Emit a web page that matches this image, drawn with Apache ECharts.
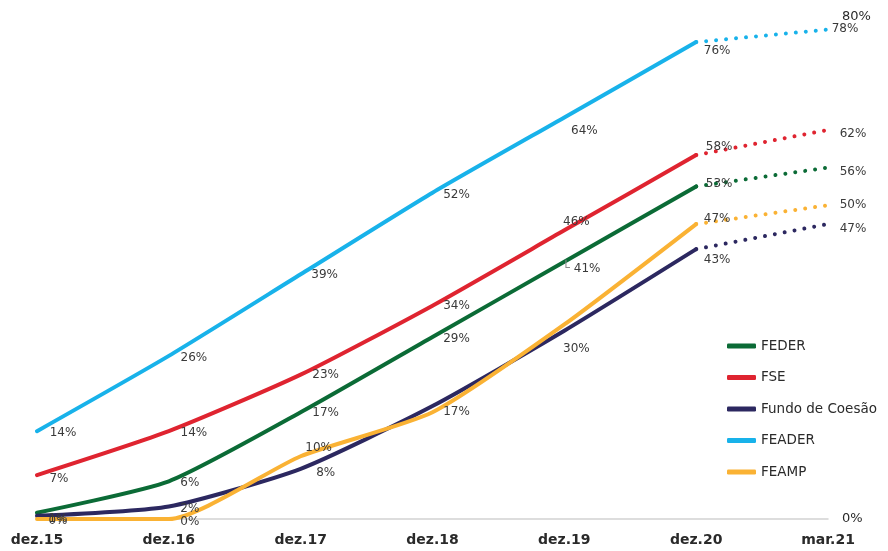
<!DOCTYPE html>
<html><head><meta charset="utf-8">
<script src="https://cdn.jsdelivr.net/npm/echarts@6/dist/echarts.min.js"></script>
<style>html,body{margin:0;padding:0;background:#fff}#c{width:888px;height:551px}</style>
</head><body><div id="c"></div>
<script>
const categories = ['dez.15','dez.16','dez.17','dez.18','dez.19','dez.20','mar.21'];
const seriesNames = ['FEDER','FSE','Fundo de Coesão','FEADER','FEAMP'];
const feder  = [1, 6, 17, 29, 41, 53, 56];
const fse    = [7, 14, 23, 34, 46, 58, 62];
const coesao = [0.5, 2, 8, 18, 30, 43, 47];
const feader = [14, 26, 39, 52, 64, 76, 78];
const feamp  = [0, 0, 10, 17, 31, 47, 50];
const yTicks = [0, 80];
const lastActual = 5; // dez.20; mar.21 is projected (dotted)

// label offsets (style only): [dx, dy] of label centre from the point, null = hidden
const offFeder  = [[21,6],[21,2],[25,1],[24,2],[17,7],[23,-3],[25,4]];
const offFse    = [[22,4],[25,2],[25,0],[24,0],[12,-8],[23,-8],[25,4]];
const offCoesao = [null,[21,2],[25,4],null,[12,18],[21,11],[25,5]];
const offFeader = [[26,2],[25,2],[24,1],[24,2],[20,13],[21,9],[17,-1]];
const offFeamp  = [[21,2],[21,3],[18,-8],[24,0],null,[21,-5],[25,0]];
const leaderAt = [0, 4]; // series index, point index with a small leader mark
const colors = ['#0b6b36','#df2430','#2c2860','#18b2ea','#fab234'];

const vals = [feder, fse, coesao, feader, feamp];
const offs = [offFeder, offFse, offCoesao, offFeader, offFeamp];

function item(v, off, leader){
  const lab = off ? {show:true, offset: off} : {show:false};
  if (leader) {
    lab.formatter = '{l|└} ' + Math.round(v) + '%';
    lab.rich = {l:{color:'#8a8a8a', fontSize:13, fontFamily:'DejaVu Sans'}};
  }
  return {value: v, label: lab};
}
const series = [];
vals.forEach((arr, s) => {
  const solid = arr.map((v,i) => i <= lastActual ? item(v, offs[s][i], s===leaderAt[0] && i===leaderAt[1]) : '-');
  const dotted = arr.map((v,i) => i < lastActual ? '-' : (i === lastActual ? item(v, null) : item(v, offs[s][i])));
  const common = {
    type:'line', name: seriesNames[s], color: colors[s],
    symbol:'circle', symbolSize:0, silent:true,
    emphasis:{disabled:true},
    label:{position:'inside', align:'center', verticalAlign:'middle',
      formatter: p => Math.round(p.value) + '%', color:'#3a3a3a', fontSize:12,
      fontFamily:'DejaVu Sans'}
  };
  series.push(Object.assign({}, common, {data: solid, smooth:0.2,
    lineStyle:{width:4, color: colors[s], cap:'round'}}));
  series.push(Object.assign({}, common, {data: dotted,
    lineStyle:{width:4, color: colors[s], type:[0.01, 10], cap:'round'}}));
});

const chart = echarts.init(document.getElementById('c'), null, {renderer:'canvas'});
chart.setOption({
  animation:false,
  backgroundColor:'#fff',
  grid:{left:37, right:60, top:17, bottom:32, containLabel:false},
  legend:{
    data: seriesNames, orient:'vertical', left:722, top:334,
    itemWidth:29, itemHeight:5, itemGap:17.5, icon:'roundRect',
    textStyle:{fontFamily:'DejaVu Sans', fontSize:13.5, color:'#2a2a2a'},
    selectedMode:false
  },
  xAxis:{
    type:'category', data: categories, boundaryGap:false,
    axisLine:{lineStyle:{color:'#d2d2d2', width:1.5}},
    axisTick:{show:false},
    axisLabel:{fontFamily:'DejaVu Sans', fontWeight:'bold', fontSize:14, color:'#2a2a2a', margin:14}
  },
  yAxis:{
    type:'value', position:'right', min:yTicks[0], max:yTicks[1], interval:yTicks[1]-yTicks[0],
    splitLine:{show:false}, axisLine:{show:false}, axisTick:{show:false},
    axisLabel:{formatter:'{value}%', fontFamily:'DejaVu Sans', fontSize:13, color:'#2a2a2a', margin:14}
  },
  series: series
});
</script></body></html>
